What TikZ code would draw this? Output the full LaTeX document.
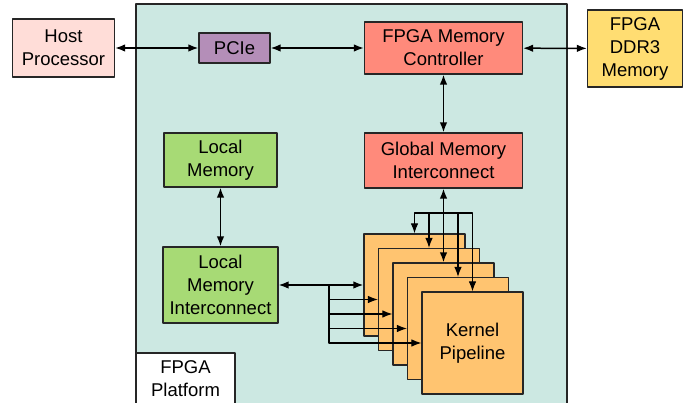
\documentclass[tikz,border=0pt]{standalone}
\usepackage{fontspec}
\setmainfont{Liberation Sans}
\usetikzlibrary{arrows.meta}

\definecolor{platformbg}{HTML}{CCE8E2}
\definecolor{hostpink}{HTML}{FFDDD8}
\definecolor{pciepurple}{HTML}{B48EB8}
\definecolor{memred}{HTML}{FF8A7B}
\definecolor{ddryellow}{HTML}{FFDD72}
\definecolor{localgreen}{HTML}{A7DA75}
\definecolor{kernelorange}{HTML}{FFC470}

\tikzset{
    blk/.style={draw=black!85,line width=1.2pt,inner sep=0pt,align=center,
        font=\fontsize{18.5}{23}\selectfont},
    link/.style={line width=1.5pt,{Latex[length=10pt,width=7.5pt]}-{Latex[length=10pt,width=7.5pt]}},
    feed/.style={line width=1.1pt,-{Latex[length=10pt,width=7.5pt]}},
}

\begin{document}
\begin{tikzpicture}[x=1pt,y=-1pt,line join=round]
    \useasboundingbox (0,0) rectangle (697,403);
    \fill[platformbg] (136,4) rectangle (567,403);
    \draw[line width=1.2pt,black!85] (136,403) -- (136,4) -- (567,4) -- (567,403);
    \node[blk,fill=white,minimum width=99pt,minimum height=52pt] (plat) at (185.5,379) {FPGA\\Platform};

    \node[blk,fill=hostpink,minimum width=102pt,minimum height=58pt] (host) at (63.5,48) {Host\\Processor};
    \node[blk,fill=pciepurple,minimum width=71pt,minimum height=30pt] (pcie) at (234.5,48) {PCIe};
    \node[blk,fill=memred,minimum width=158pt,minimum height=52pt] (fmc) at (443.5,48) {FPGA Memory\\Controller};
    \node[blk,fill=ddryellow,minimum width=95pt,minimum height=77pt] (ddr) at (635,48.5) {FPGA\\DDR3\\Memory};
    \node[blk,fill=memred,minimum width=158pt,minimum height=55pt] (gmi) at (443.5,160.5) {Global Memory\\Interconnect};
    \node[blk,fill=localgreen,minimum width=113pt,minimum height=54pt] (locmem) at (220.5,160) {Local\\Memory};
    \node[blk,fill=localgreen,minimum width=115pt,minimum height=76pt] (lmi) at (220.5,285) {Local\\Memory\\Interconnect};

    \foreach \i/\t in {1/,2/,3/,4/,5/{Kernel\\Pipeline}}{%
        \node[blk,fill=kernelorange,minimum width=101pt,minimum height=102pt] (k\i)
            at ({414.5+14.5*(\i-1)},{285+14.5*(\i-1)}) {\t};
    }%

    \draw[link] (host) -- (pcie);
    \draw[link] (pcie) -- (fmc);
    \draw[link] (fmc) -- (ddr);
    \draw[link] (fmc) -- (gmi);
    \draw[link] (locmem) -- (lmi);
    \draw[link] (lmi) -- (k1);
    \draw[link] (gmi) -- (k3);

    \coordinate (tbus) at (443.5,213);
    \coordinate (lbus) at (329,285);
    \foreach \i in {1,2,4,5}{%
        \draw[feed] (tbus) -| (k\i.north);
    }%
    \foreach \i in {2,...,5}{%
        \draw[feed] (lbus) |- (k\i.west);
    }%
\end{tikzpicture}
\end{document}
